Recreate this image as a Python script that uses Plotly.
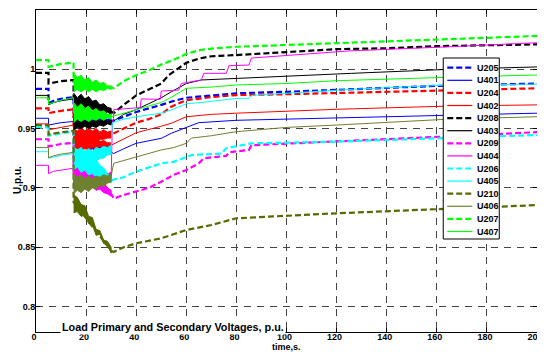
import plotly.graph_objects as go

# ---------------- data ----------------
BAND_T = [15, 16.5, 18, 19.5, 21, 22.5, 24, 25.5, 27, 28.5, 30]

U205_t = [0, 5, 5, 7, 10, 15, 15, 30, 35, 40, 50, 54, 60, 70, 80, 100, 120, 160, 200]
U205_v = [0.9835, 0.9835, 0.9715, 0.9735, 0.9752, 0.9765, 0.960, 0.956, 0.960, 0.964, 0.970, 0.9727, 0.976, 0.978, 0.9798, 0.981, 0.9825, 0.986, 0.988]
U205_lo = [0.953, 0.955, 0.952, 0.954, 0.953, 0.955, 0.953, 0.954, 0.954, 0.955, 0.954]
U205_hi = [0.966, 0.963, 0.965, 0.962, 0.964, 0.961, 0.962, 0.959, 0.960, 0.958, 0.958]

U401_t = [0, 5, 5, 7, 10, 15, 15, 30, 31, 35, 40, 50, 54, 60, 65, 80, 120, 165, 200]
U401_v = [0.9587, 0.9587, 0.953, 0.954, 0.955, 0.956, 0.942, 0.930, 0.929, 0.933, 0.9376, 0.9418, 0.946, 0.951, 0.955, 0.957, 0.959, 0.9615, 0.963]
U401_lo = [0.935, 0.937, 0.933, 0.935, 0.932, 0.933, 0.930, 0.931, 0.929, 0.930, 0.928]
U401_hi = [0.948, 0.945, 0.947, 0.944, 0.945, 0.942, 0.943, 0.939, 0.938, 0.936, 0.935]

U204_t = [0, 5, 5, 7, 10, 15, 15, 30, 35, 40, 45, 50, 54, 60, 70, 80, 100, 120, 165, 200]
U204_v = [0.967, 0.967, 0.963, 0.964, 0.965, 0.9663, 0.945, 0.945, 0.950, 0.955, 0.958, 0.962, 0.9685, 0.974, 0.9765, 0.9783, 0.979, 0.980, 0.982, 0.984]
U204_lo = [0.935, 0.938, 0.936, 0.939, 0.938, 0.940, 0.939, 0.941, 0.941, 0.942, 0.942]
U204_hi = [0.950, 0.948, 0.951, 0.948, 0.950, 0.948, 0.950, 0.947, 0.949, 0.947, 0.948]

U402_t = [0, 5, 5, 7, 10, 15, 15, 30, 35, 40, 50, 54, 60, 70, 80, 120, 165, 200]
U402_v = [0.954, 0.954, 0.949, 0.950, 0.951, 0.953, 0.940, 0.936, 0.941, 0.9465, 0.952, 0.9545, 0.960, 0.962, 0.963, 0.9663, 0.969, 0.970]
U402_lo = [0.930, 0.933, 0.931, 0.933, 0.932, 0.934, 0.933, 0.935, 0.934, 0.935, 0.935]
U402_hi = [0.945, 0.942, 0.944, 0.941, 0.943, 0.940, 0.942, 0.939, 0.940, 0.938, 0.938]

U208_t = [0, 5, 5, 7, 10, 15, 15, 30, 31, 35, 40, 45, 50, 53, 57, 60, 65, 70, 80, 100, 120, 140, 160, 200]
U208_v = [0.997, 0.997, 0.988, 0.989, 0.990, 0.991, 0.973, 0.9645, 0.963, 0.970, 0.978, 0.983, 0.988, 0.995, 1.001, 1.0055, 1.009, 1.011, 1.012, 1.0148, 1.017, 1.0177, 1.0195, 1.021]
U208_lo = [0.966, 0.968, 0.966, 0.967, 0.965, 0.966, 0.964, 0.965, 0.963, 0.964, 0.962]
U208_hi = [0.980, 0.976, 0.979, 0.975, 0.977, 0.973, 0.974, 0.970, 0.971, 0.968, 0.967]

U403_t = [0, 5, 5, 7, 10, 15, 15, 30, 35, 40, 45, 50, 54, 60, 66, 80, 100, 126, 165, 200]
U403_v = [0.978, 0.978, 0.970, 0.972, 0.9735, 0.975, 0.953, 0.955, 0.962, 0.966, 0.971, 0.976, 0.981, 0.988, 0.991, 0.9924, 0.994, 0.9966, 1.0, 1.002]
U403_lo = [0.949, 0.951, 0.950, 0.952, 0.950, 0.952, 0.951, 0.953, 0.952, 0.954, 0.953]
U403_hi = [0.958, 0.956, 0.959, 0.956, 0.958, 0.956, 0.958, 0.956, 0.958, 0.956, 0.957]

U209_t = [0, 5, 5, 7, 10, 15, 15, 30, 31, 35, 40, 45, 50, 55, 60, 65, 67, 76, 77, 85, 86, 120, 160, 200]
U209_v = [0.941, 0.941, 0.935, 0.936, 0.937, 0.938, 0.912, 0.895, 0.891, 0.894, 0.8968, 0.900, 0.9052, 0.911, 0.915, 0.9207, 0.925, 0.927, 0.930, 0.932, 0.936, 0.939, 0.943, 0.947]
U209_lo = [0.902, 0.905, 0.901, 0.903, 0.900, 0.901, 0.898, 0.899, 0.896, 0.895, 0.893]
U209_hi = [0.922, 0.918, 0.920, 0.916, 0.917, 0.912, 0.912, 0.907, 0.905, 0.900, 0.898]

U404_t = [0, 5, 5, 7, 10, 15, 15, 30, 30.5, 31, 31, 41.6, 42, 49.6, 50, 57, 58, 66, 67, 76, 77, 85, 86, 125, 165, 200]
U404_v = [0.919, 0.919, 0.912, 0.914, 0.915, 0.9166, 0.912, 0.910, 0.955, 0.960, 0.966, 0.9677, 0.975, 0.9747, 0.9817, 0.9825, 0.988, 0.991, 0.9966, 0.9966, 1.003, 1.0036, 1.0095, 1.0155, 1.019, 1.0224]
U404_lo = [0.903, 0.906, 0.903, 0.905, 0.903, 0.905, 0.904, 0.906, 0.905, 0.907, 0.907]
U404_hi = [0.922, 0.918, 0.920, 0.916, 0.918, 0.915, 0.916, 0.913, 0.914, 0.912, 0.913]

U206_t = [0, 5, 5, 7, 10, 15, 15, 30, 31, 35, 40, 50, 55, 62, 71, 74, 76, 86, 120, 160, 200]
U206_v = [0.951, 0.951, 0.944, 0.945, 0.946, 0.9475, 0.925, 0.906, 0.907, 0.909, 0.9137, 0.9207, 0.922, 0.9277, 0.929, 0.929, 0.9334, 0.9376, 0.939, 0.942, 0.9446]
U206_lo = [0.915, 0.918, 0.913, 0.915, 0.911, 0.912, 0.909, 0.909, 0.906, 0.906, 0.904]
U206_hi = [0.935, 0.930, 0.933, 0.928, 0.929, 0.924, 0.924, 0.919, 0.917, 0.912, 0.910]

U405_t = [0, 5, 5, 7, 10, 15, 15, 30, 30.5, 35, 40, 50, 54, 60, 66, 80, 85, 86, 125, 165, 200]
U405_v = [0.9305, 0.9305, 0.925, 0.926, 0.9275, 0.929, 0.925, 0.932, 0.955, 0.958, 0.960, 0.963, 0.9657, 0.971, 0.972, 0.9755, 0.9755, 0.978, 0.983, 0.9868, 0.9875]
U405_lo = [0.915, 0.918, 0.917, 0.920, 0.920, 0.923, 0.922, 0.925, 0.925, 0.928, 0.928]
U405_hi = [0.935, 0.932, 0.934, 0.931, 0.933, 0.931, 0.934, 0.933, 0.935, 0.934, 0.936]

U210_t = [0, 5, 5, 7, 10, 15, 15, 30, 31, 35, 40, 50, 60, 70, 80, 120, 165, 200]
U210_v = [0.953, 0.953, 0.945, 0.946, 0.947, 0.948, 0.888, 0.847, 0.846, 0.850, 0.8533, 0.8575, 0.8645, 0.8687, 0.8744, 0.8786, 0.8828, 0.8855]
U210_lo = [0.879, 0.880, 0.876, 0.877, 0.870, 0.869, 0.860, 0.861, 0.853, 0.852, 0.845]
U210_hi = [0.894, 0.892, 0.886, 0.885, 0.876, 0.875, 0.865, 0.864, 0.856, 0.855, 0.850]

U406_t = [0, 5, 5, 7, 10, 15, 15, 30, 31, 40, 50, 55, 60, 62, 70, 80, 100, 120, 165, 200]
U406_v = [0.934, 0.934, 0.9255, 0.927, 0.9285, 0.930, 0.905, 0.910, 0.9207, 0.9263, 0.932, 0.934, 0.9376, 0.942, 0.944, 0.9474, 0.951, 0.953, 0.958, 0.960]
U406_lo = [0.895, 0.898, 0.896, 0.899, 0.897, 0.900, 0.899, 0.902, 0.901, 0.904, 0.905]
U406_hi = [0.912, 0.909, 0.911, 0.908, 0.910, 0.908, 0.910, 0.909, 0.911, 0.910, 0.912]

U207_t = [0, 5, 5, 7, 10, 15, 15, 30, 31, 35, 40, 45, 50, 55, 60, 65, 70, 80, 100, 120, 160, 200]
U207_v = [1.0078, 1.0078, 1.002, 1.003, 1.0045, 1.0056, 0.990, 0.985, 0.984, 0.990, 0.995, 0.999, 1.004, 1.008, 1.013, 1.016, 1.0175, 1.019, 1.0205, 1.0225, 1.0253, 1.0281]
U207_lo = [0.981, 0.983, 0.981, 0.983, 0.981, 0.983, 0.981, 0.983, 0.982, 0.984, 0.983]
U207_hi = [0.997, 0.993, 0.995, 0.991, 0.993, 0.989, 0.991, 0.988, 0.989, 0.986, 0.986]

U407_t = [0, 5, 5, 7, 10, 15, 15, 30, 35, 40, 45, 50, 54, 60, 70, 80, 100, 120, 165, 200]
U407_v = [0.976, 0.976, 0.9705, 0.972, 0.974, 0.976, 0.963, 0.960, 0.963, 0.966, 0.969, 0.972, 0.9764, 0.984, 0.985, 0.9868, 0.988, 0.9904, 0.9933, 0.9952]
U407_lo = [0.955, 0.958, 0.956, 0.958, 0.956, 0.958, 0.957, 0.959, 0.957, 0.959, 0.958]
U407_hi = [0.972, 0.968, 0.971, 0.967, 0.969, 0.965, 0.967, 0.964, 0.965, 0.962, 0.962]

X_TICKS = [0, 20, 40, 60, 80, 100, 120, 140, 160, 180, 200]
Y_TICKS = [0.8, 0.85, 0.9, 0.95, 1.0, 1.05]
Y_TICK_TEXT = ["0.8", "0.85", "0.9", "0.95", "1", "1.05"]

# ---------------- styles ----------------
BLUE, RED, BLACK, MAG, CYAN = "#0000ff", "#ff0000", "#000000", "#ff00ff", "#00ffff"
OLIVE_D, OLIVE_S, GREEN = "#556b00", "#6f8030", "#00ff00"
DASH = "6px,3px"

series = [
    ("U205", U205_t, U205_v, U205_lo, U205_hi, BLUE, True),
    ("U401", U401_t, U401_v, U401_lo, U401_hi, BLUE, False),
    ("U204", U204_t, U204_v, U204_lo, U204_hi, RED, True),
    ("U402", U402_t, U402_v, U402_lo, U402_hi, RED, False),
    ("U208", U208_t, U208_v, U208_lo, U208_hi, BLACK, True),
    ("U403", U403_t, U403_v, U403_lo, U403_hi, BLACK, False),
    ("U209", U209_t, U209_v, U209_lo, U209_hi, MAG, True),
    ("U404", U404_t, U404_v, U404_lo, U404_hi, MAG, False),
    ("U206", U206_t, U206_v, U206_lo, U206_hi, CYAN, True),
    ("U405", U405_t, U405_v, U405_lo, U405_hi, CYAN, False),
    ("U210", U210_t, U210_v, U210_lo, U210_hi, OLIVE_D, True),
    ("U406", U406_t, U406_v, U406_lo, U406_hi, OLIVE_S, False),
    ("U207", U207_t, U207_v, U207_lo, U207_hi, GREEN, True),
    ("U407", U407_t, U407_v, U407_lo, U407_hi, GREEN, False),
]

FONT = "Liberation Sans, Arial, sans-serif"

fig = go.Figure()
for name, t, v, lo, hi, color, dashed in series:
    # oscillation envelope during the disturbance
    fig.add_trace(go.Scatter(
        x=BAND_T + BAND_T[::-1], y=hi + lo[::-1],
        mode="lines", fill="toself", fillcolor=color,
        line=dict(color=color, width=1), showlegend=False, hoverinfo="skip"))
    fig.add_trace(go.Scatter(
        x=t, y=v, mode="lines", name=name, showlegend=False,
        line=dict(color=color, width=2.2 if dashed else 1,
                  dash=DASH if dashed else "solid")))

# ---------------- layout ----------------
# The page body has an 8px default margin, so the figure is drawn 8px in
# from the window's top-left corner. Positions below are window pixels.
OFF = 8
W, H = 545 - OFF, 352 - OFF
AX_L, AX_R, AX_T, AX_B = 36, 536.7, 10, 332        # plot-area edges (window px)
L, R, T, B = AX_L - OFF, W - (AX_R - OFF), AX_T - OFF, H - (AX_B - OFF)
PW, PH = W - L - R, H - T - B


def px_x(p):
    return (p - AX_L) / PW


def px_y(p):
    return (AX_B - p) / PH


fig.update_layout(
    width=W, height=H,
    margin=dict(l=L, r=R, t=T, b=B, pad=0, autoexpand=False),
    paper_bgcolor="white", plot_bgcolor="white",
    showlegend=False,
    font=dict(family=FONT, size=9, color="black"),
)
axis_common = dict(
    showline=True, linecolor="black", linewidth=1, mirror="ticks",
    ticks="inside", ticklen=4, tickcolor="black",
    showgrid=True, gridcolor="#444444", gridwidth=1, griddash="7px,6px",
    zeroline=False, automargin=False,
    tickfont=dict(family=FONT, size=9, color="black", weight="bold"),
)
fig.update_xaxes(range=[0, 200], tickvals=X_TICKS, ticklabelstandoff=-4,
                 ticklabelshift=-2, ticklabeloverflow="allow", **axis_common)
fig.update_yaxes(range=[0.7785, 1.05], tickvals=Y_TICKS, ticktext=Y_TICK_TEXT,
                 ticklabelstandoff=-2, **axis_common)

ann_font = dict(family=FONT, size=9, color="black", weight="bold")
fig.add_annotation(text="time,s.", xref="paper", yref="paper",
                   x=0.5, y=px_y(346.5), xanchor="center", yanchor="middle",
                   showarrow=False, font=ann_font)
fig.add_annotation(text="U,p.u.", xref="paper", yref="paper",
                   x=px_x(17), y=px_y(180), textangle=-90,
                   xanchor="center", yanchor="middle",
                   showarrow=False, font=dict(ann_font, size=10))
fig.add_annotation(text="Load Primary and Secondary Voltages, p.u.",
                   xref="paper", yref="paper", x=px_x(173), y=px_y(327),
                   xanchor="center", yanchor="middle", showarrow=False,
                   bgcolor="white", borderpad=1,
                   font=dict(ann_font, size=10.8))

# ---------------- legend (drawn manually, compact like the original) ----------------
LEG_X0, LEG_X1, LEG_Y0, LEG_Y1 = 443, 499, 58, 239
fig.add_shape(type="rect", xref="paper", yref="paper",
              x0=px_x(LEG_X0), x1=px_x(LEG_X1), y0=px_y(LEG_Y1), y1=px_y(LEG_Y0),
              fillcolor="white", line=dict(color="black", width=1), layer="above")
for i, (name, t, v, lo, hi, color, dashed) in enumerate(series):
    yy = 67.7 + i * 12.6
    fig.add_shape(type="line", xref="paper", yref="paper",
                  x0=px_x(447), x1=px_x(472), y0=px_y(yy), y1=px_y(yy),
                  line=dict(color=color, width=2.2 if dashed else 1.2,
                            dash=DASH if dashed else "solid"), layer="above")
    fig.add_annotation(text=name, xref="paper", yref="paper",
                       x=px_x(475), y=px_y(yy), xanchor="left", yanchor="middle",
                       showarrow=False, font=ann_font)

fig.write_html("out.html")
